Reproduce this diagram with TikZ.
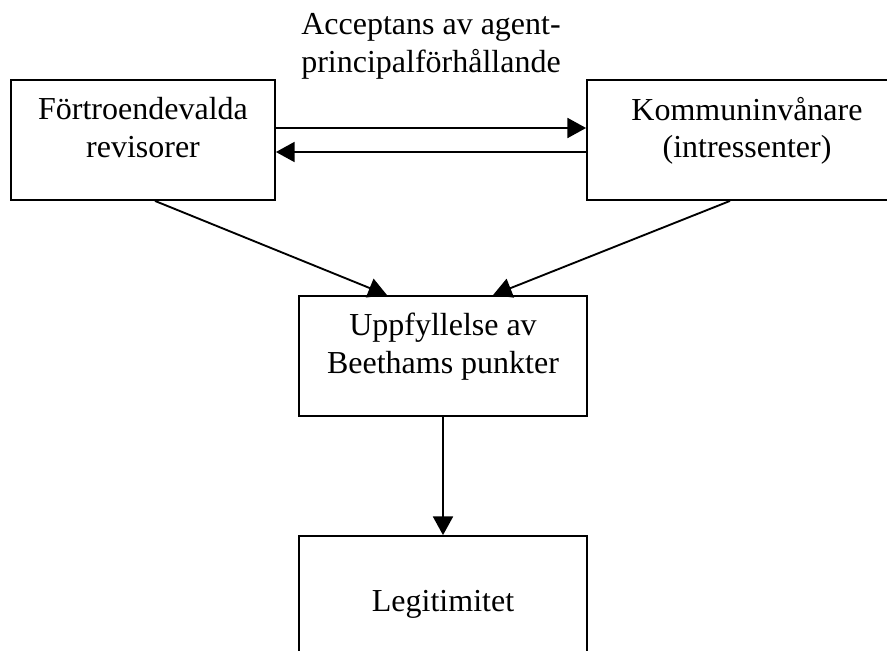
\documentclass[tikz,border=0pt]{standalone}
\usepackage{fontspec}
\setmainfont{Liberation Serif}
\usepackage{tikz}
\usetikzlibrary{arrows.meta}

\begin{document}
\begin{tikzpicture}[x=0.75pt,y=-0.75pt,
    box/.style={draw, line width=1.4pt, align=center, inner sep=0pt,
        font=\fontsize{24}{28}\selectfont, text depth=19pt, minimum height=90pt},
    pil/.style={line width=1.4pt, -{Triangle[length=14pt,width=15pt]}}]
    \useasboundingbox (0,0) rectangle (887,650);

    % Boxes
    \node[box, minimum width=198pt] (rev) at (143,140) {Förtroendevalda\\revisorer};
    \node[box, minimum width=240pt] (inv) at (747,140) {Kommuninvånare\\(intressenter)};
    \node[box, minimum width=216pt] (upp) at (443,356) {Uppfyllelse av\\Beethams punkter};
    \node[box, minimum width=216pt, minimum height=116.5pt] (leg) at (443,613.7) {Legitimitet};

    % Label over the two arrows
    \node[anchor=base, align=center, font=\fontsize{24}{28}\selectfont] (acc) at (431,72)
        {Acceptans av agent-\\principalförhållande};

    % Arrows between the boxes
    \draw[pil] ([yshift=9pt]rev.east) -- ([yshift=9pt]inv.west);
    \draw[pil] ([yshift=-9pt]inv.west) -- ([yshift=-9pt]rev.east);
    \draw[pil] ([xshift=9pt]rev.south) -- ([xshift=-42pt]upp.north);
    \draw[pil] ([xshift=-12.75pt]inv.south) -- ([xshift=37.5pt]upp.north);
    \draw[pil] (upp.south) -- (leg.north);
\end{tikzpicture}
\end{document}
